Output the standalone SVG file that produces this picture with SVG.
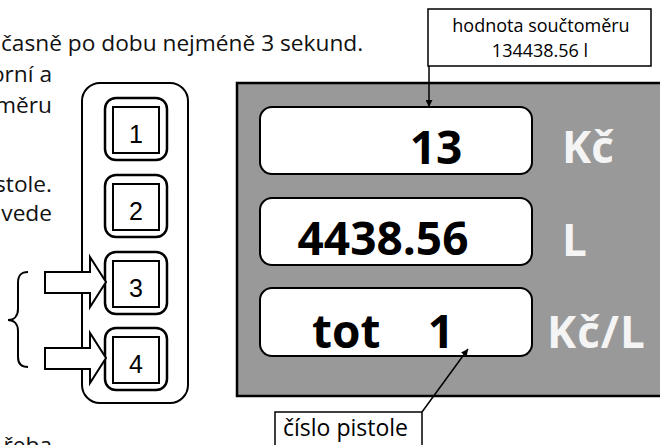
<svg xmlns="http://www.w3.org/2000/svg" width="660" height="445" viewBox="0 0 660 445">
<defs>
<style>
.doc{font-family:"Open Sans","Liberation Sans",sans-serif;font-size:22.7px;fill:#111}
.ln{fill:none;stroke:#000;stroke-width:2}
.btnO{fill:#fff;stroke:#000;stroke-width:2.5}
.btnI{fill:#fff;stroke:#000;stroke-width:2}
.dig{font-family:"Liberation Sans",Arial,sans-serif;font-size:25px;fill:#000;text-anchor:middle}
.disp{fill:#fff;stroke:#000;stroke-width:2}
.num{font-family:"Open Sans","Liberation Sans",sans-serif;font-weight:bold;font-size:46px;fill:#000}
.unit{font-family:"Open Sans","Liberation Sans",sans-serif;font-weight:bold;font-size:44px;fill:#f4f4f4}
.lbl{font-family:"Open Sans","Liberation Sans",sans-serif;fill:#000}
.arr{fill:#fff;stroke:#000;stroke-width:2;stroke-linejoin:miter}
</style>
<marker id="ah" viewBox="0 0 10 10" refX="10" refY="5" markerWidth="7" markerHeight="7" markerUnits="userSpaceOnUse" orient="auto">
<path d="M0,0 L10,5 L0,10 z" fill="#000"/>
</marker>
</defs>

<g id="doc-text">
<text class="doc" x="1" y="51">časně po dobu nejméně 3 sekund.</text>
<text class="doc" x="52" y="82" text-anchor="end">orní a</text>
<text class="doc" x="52" y="113" text-anchor="end">měru</text>
<text class="doc" x="52" y="192" text-anchor="end">stole.</text>
<text class="doc" x="52" y="221" text-anchor="end">vede</text>
<text class="doc" x="52" y="453" text-anchor="end">řeba</text>
</g>

<g id="keypad">
<rect x="82" y="83" width="106" height="320" rx="18" class="ln" stroke-width="2.5"/>
</g>
<g id="key1">
<rect x="105" y="98" width="62" height="62" rx="11" class="btnO"/>
<rect x="113" y="107" width="46" height="46" class="btnI"/>
<text class="dig" x="136" y="143">1</text>
</g>
<g id="key2">
<rect x="105" y="175" width="62" height="62" rx="11" class="btnO"/>
<rect x="113" y="184" width="46" height="46" class="btnI"/>
<text class="dig" x="136" y="220">2</text>
</g>
<g id="key3">
<rect x="105" y="252" width="62" height="62" rx="11" class="btnO"/>
<rect x="113" y="261" width="46" height="46" class="btnI"/>
<text class="dig" x="136" y="297">3</text>
</g>
<g id="key4">
<rect x="105" y="328" width="62" height="62" rx="11" class="btnO"/>
<rect x="113" y="337" width="46" height="46" class="btnI"/>
<text class="dig" x="136" y="373">4</text>
</g>

<g id="brace">
<path class="ln" d="M28,272 C21,272 18,275 18,283 L18,309 C18,316 14,320 8,320 C14,320 18,324 18,331 L18,357 C18,364 21,367 28,367"/>
</g>

<g id="display">
<rect x="237" y="83" width="430" height="313" fill="#999" stroke="#000" stroke-width="2.5"/>
</g>
<g id="row-price">
<rect x="260" y="107" width="272" height="67" rx="12" class="disp"/>
<text class="num" x="436" y="164" text-anchor="middle">13</text>
<text class="unit" x="562" y="163">Kč</text>
</g>
<g id="row-volume">
<rect x="260" y="198" width="272" height="67" rx="12" class="disp"/>
<text class="num" x="383" y="255" text-anchor="middle">4438.56</text>
<text class="unit" x="562" y="256">L</text>
</g>
<g id="row-unit">
<rect x="260" y="288" width="272" height="68" rx="12" class="disp"/>
<text class="num" y="348"><tspan x="312">tot</tspan><tspan x="441" text-anchor="middle">1</tspan></text>
<text class="unit" x="547" y="348" font-size="50" letter-spacing="1">Kč/L</text>
</g>

<g id="callout-total">
<rect x="428" y="9" width="223" height="57" fill="#fff" stroke="#000" stroke-width="1.5"/>
<text class="lbl" x="541" y="32" font-size="18" text-anchor="middle">hodnota součtoměru</text>
<text class="lbl" x="540" y="57" font-size="18" text-anchor="middle">134438.56 l</text>
</g>
<g id="callout-pistol">
<rect x="275" y="412" width="147" height="40" fill="#fff" stroke="#000" stroke-width="1.5"/>
<text class="lbl" x="283" y="436" font-size="23">číslo pistole</text>
</g>

<g id="connectors">
<polygon class="arr" points="45,272 90,272 90,257 106,282 90,307 90,293 45,293"/>
<polygon class="arr" points="45,348 90,348 90,333 106,358 90,383 90,369 45,369"/>
<line x1="429" y1="66" x2="429" y2="107" stroke="#000" stroke-width="1.5" marker-end="url(#ah)"/>
<line x1="422" y1="412" x2="468" y2="349" stroke="#000" stroke-width="1.5" marker-end="url(#ah)"/>
</g>
</svg>
